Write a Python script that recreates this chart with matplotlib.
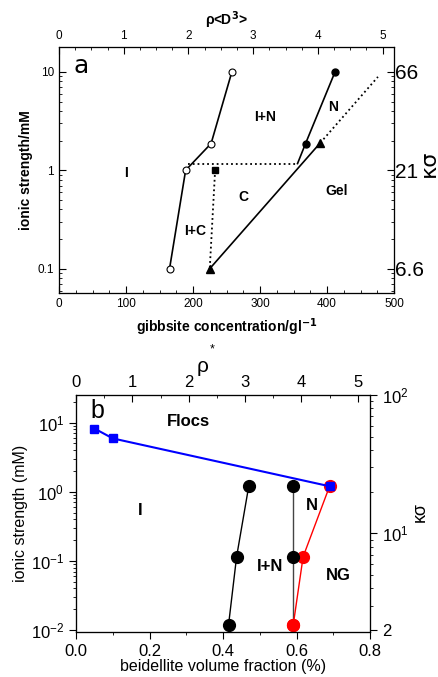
import numpy as np
import matplotlib
matplotlib.use("Agg")
import matplotlib.pyplot as plt
from matplotlib.ticker import LogLocator, NullFormatter, MultipleLocator, FixedLocator

plt.rcParams['font.family'] = ['Liberation Sans', 'DejaVu Sans']

# --- panel a: gibbsite ---
iso_conc = [165, 189, 227, 258]
iso_I = [0.1, 1.0, 1.87, 10]
nem_conc = [368, 412]
nem_I = [1.87, 10]
nem_line_conc = [356, 368, 412]
nem_line_I = [1.17, 1.87, 10]
col_conc = [233]
col_I = [1.0]
gel_conc = [225, 390]
gel_I = [0.1, 1.9]
dot_h_conc = [192, 356]
dot_h_I = [1.17, 1.17]
dot_v_conc = [233, 225]
dot_v_I = [1.0, 0.1]
dot_gel_conc = [390, 476]
dot_gel_I = [1.9, 8.9]
a_yticks = [0.1, 1, 10]
a_ytick_labels = ['0.1', '1', '10']
a_right_labels = ['6.6', '21', '66']

# --- panel b: beidellite ---
floc_phi = [0.05, 0.10, 0.69]
floc_I = [8.2, 5.9, 1.2]
iso_phi = [0.47, 0.437, 0.415]
iso_Ib = [1.2, 0.115, 0.0118]
nem_phi = [0.591, 0.591, 0.591]
nem_Ib = [1.2, 0.115, 0.0118]
gel_phi = [0.69, 0.618, 0.591]
gel_Ib = [1.2, 0.115, 0.0118]

fig = plt.figure(figsize=(4.38, 6.77), dpi=100)

# ================= panel a =================
ax = fig.add_axes([59/438, 1-293/677, 335/438, 246/677])
ax.set_yscale('log')
ax.set_xlim(0, 500)
ax.set_ylim(0.0566, 17.9)

ax.plot(iso_conc, iso_I, '-', color='black', lw=1.2, marker='o', mfc='white',
        mec='black', ms=5, mew=0.8)
ax.plot(nem_line_conc, nem_line_I, '-', color='black', lw=1.2)
ax.plot(nem_conc, nem_I, 'o', color='black', ms=5)
ax.plot(gel_conc, gel_I, '-', color='black', lw=1.2, marker='^', ms=6)
ax.plot(dot_h_conc, dot_h_I, ':', color='black', lw=1.3)
ax.plot(dot_v_conc, dot_v_I, ':', color='black', lw=1.3)
ax.plot(dot_gel_conc, dot_gel_I, ':', color='black', lw=1.3)
ax.plot(col_conc, col_I, 's', color='black', ms=5)

ax.set_yticks(a_yticks)
ax.set_yticklabels(a_ytick_labels)
ax.yaxis.set_minor_locator(LogLocator(base=10, subs=np.arange(2, 10)))
ax.yaxis.set_minor_formatter(NullFormatter())
ax.xaxis.set_major_locator(MultipleLocator(100))
ax.xaxis.set_minor_locator(MultipleLocator(25))
ax.tick_params(which='both', direction='in', labelsize=8.5, top=False)
ax.tick_params(which='major', length=5)
ax.tick_params(which='minor', length=2.5)
ax.set_xlabel('gibbsite concentration/gl$^{\\mathbf{-1}}$', fontsize=10,
              fontweight='bold', labelpad=5)
ax.set_ylabel('ionic strength/mM', fontsize=10, fontweight='bold', labelpad=3)
for s in ax.spines.values():
    s.set_color('#555555')

# top axis rho<D^3>
axt = ax.twiny()
axt.set_xlim(0, 500 / 96.6)
axt.xaxis.set_major_locator(MultipleLocator(1))
axt.xaxis.set_minor_locator(MultipleLocator(0.25))
axt.tick_params(which='both', direction='in', labelsize=8.5)
axt.tick_params(which='major', length=5)
axt.tick_params(which='minor', length=2.5)
axt.set_xlabel('ρ<D$^{\\mathbf{3}}$>', fontsize=10, fontweight='bold', labelpad=4)

# right axis kappa sigma
axr = ax.twinx()
axr.set_yscale('log')
axr.set_ylim(ax.get_ylim())
axr.set_yticks(a_yticks)
axr.set_yticklabels(a_right_labels)
axr.yaxis.set_minor_locator(LogLocator(base=10, subs=np.arange(2, 10)))
axr.yaxis.set_minor_formatter(NullFormatter())
axr.tick_params(which='both', direction='in', labelsize=15, pad=1)
axr.tick_params(which='major', length=5)
axr.tick_params(which='minor', length=2.5)
fig.text(429/438, 1-163/677, 'κσ', fontsize=16, rotation=90, ha='center',
         va='center', family='DejaVu Sans')

ax.text(33, 11.4, 'a', fontsize=18, ha='center', va='center', family='DejaVu Sans')
for lab, x, y in [('I+N', 307, 3.45), ('N', 409, 4.36), ('I', 100, 0.94),
                  ('C', 275, 0.53), ('Gel', 414, 0.617), ('I+C', 203, 0.24)]:
    ax.text(x, y, lab, fontsize=10, fontweight='bold', ha='center', va='center')

# ================= panel b =================
bx = fig.add_axes([76/438, 1-631.7/677, 294/438, 236.7/677])
bx.set_yscale('log')
bx.set_xlim(0, 0.8)
bx.set_ylim(0.0095, 25)

bx.plot(iso_phi, iso_Ib, '-', color='black', lw=1, marker='o', ms=8.5)
bx.plot(gel_phi, gel_Ib, '-', color='red', lw=1, marker='o', ms=8.5)
bx.plot(nem_phi[:2], nem_Ib[:2], 'o', color='black', ms=8.5)
bx.plot(nem_phi, nem_Ib, '-', color='#444444', lw=1, zorder=1)
bx.plot(gel_phi[-1:], gel_Ib[-1:], 'o', color='red', ms=8.5)
bx.plot(floc_phi, floc_I, '-', color='blue', lw=1.5, marker='s', ms=6)

bx.xaxis.set_major_locator(MultipleLocator(0.2))
bx.xaxis.set_minor_locator(MultipleLocator(0.1))
bx.xaxis.set_major_formatter(plt.FuncFormatter(lambda v, p: f'{v:.1f}'))
bx.yaxis.set_major_locator(LogLocator(base=10, numticks=10))
bx.yaxis.set_minor_locator(LogLocator(base=10, subs=np.arange(2, 10), numticks=10))
bx.yaxis.set_minor_formatter(NullFormatter())
bx.tick_params(which='both', direction='out', labelsize=12, top=False)
bx.tick_params(which='major', length=5)
bx.tick_params(which='minor', length=2.5)
bx.set_xlabel('beidellite volume fraction (%)', fontsize=11.5, labelpad=0)
bx.set_ylabel('ionic strength (mM)', fontsize=11.5, labelpad=2)

bxt = bx.twiny()
bxt.set_xlim(0, 0.8 * 6.52)
bxt.xaxis.set_major_locator(MultipleLocator(1))
bxt.xaxis.set_minor_locator(MultipleLocator(0.5))
bxt.tick_params(which='both', direction='in', labelsize=12)
bxt.tick_params(which='major', length=5)
bxt.tick_params(which='minor', length=2.5)
fig.text(203/438, 1-367/677, 'ρ', fontsize=15, ha='center', va='center')
fig.text(212/438, 1-349/677, '*', fontsize=9, ha='center', va='center')

bxr = bx.twinx()
bxr.set_yscale('log')
lo, hi = bx.get_ylim()
bxr.set_ylim(20 * np.sqrt(lo), 20 * np.sqrt(hi))
bxr.yaxis.set_major_locator(FixedLocator([2, 10, 100]))
bxr.yaxis.set_major_formatter(plt.FuncFormatter(
    lambda v, p: '2' if v < 5 else '$\\mathdefault{10^{%d}}$' % round(np.log10(v))))
bxr.yaxis.set_minor_locator(LogLocator(base=10, subs=np.arange(2, 10)))
bxr.yaxis.set_minor_formatter(NullFormatter())
bxr.tick_params(which='both', direction='out', labelsize=12)
bxr.tick_params(which='major', length=5)
bxr.tick_params(which='minor', length=2.5)
fig.text(420/438, 1-512/677, 'κσ', fontsize=13, rotation=90, ha='center', va='center')

bx.text(0.057, 14.8, 'b', fontsize=18, ha='center', va='center')
for lab, x, y in [('Flocs', 0.305, 10.3), ('I', 0.174, 0.543), ('N', 0.641, 0.641),
                  ('I+N', 0.528, 0.0818), ('NG', 0.713, 0.062)]:
    bx.text(x, y, lab, fontsize=12, fontweight='bold', ha='center', va='center')

fig.savefig('out.png', dpi=100)
